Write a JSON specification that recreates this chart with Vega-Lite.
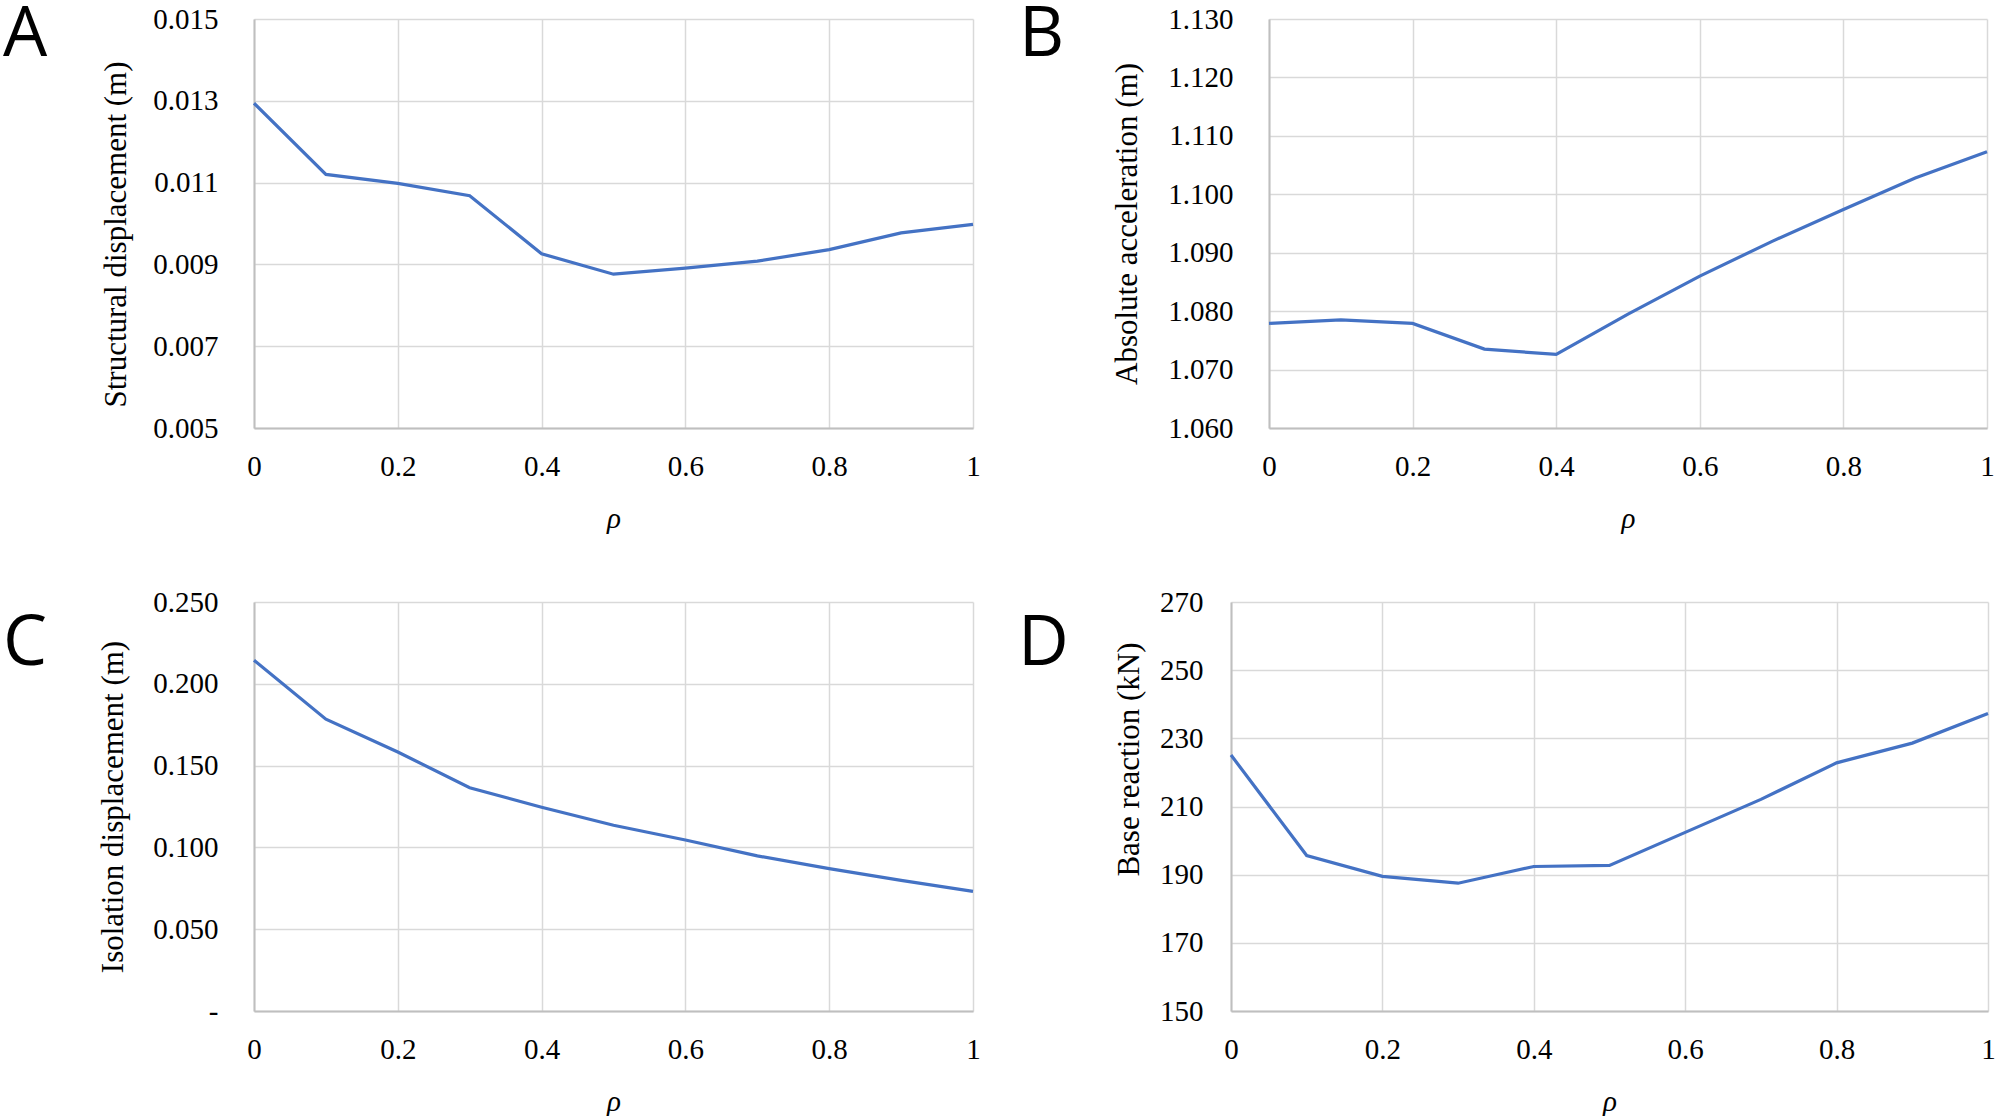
{
  "$schema": "https://vega.github.io/schema/vega-lite/v6.json",
  "background": "white",
  "padding": {"left": 3, "top": 0, "right": 0, "bottom": 0},
  "datasets": {
    "a": [
      {"rho": 0.0, "value": 0.01294},
      {"rho": 0.1, "value": 0.01120},
      {"rho": 0.2, "value": 0.01098},
      {"rho": 0.3, "value": 0.01068},
      {"rho": 0.4, "value": 0.00926},
      {"rho": 0.5, "value": 0.00876},
      {"rho": 0.6, "value": 0.00891},
      {"rho": 0.7, "value": 0.00908},
      {"rho": 0.8, "value": 0.00936},
      {"rho": 0.9, "value": 0.00977},
      {"rho": 1.0, "value": 0.00998}
    ],
    "b": [
      {"rho": 0.0, "value": 1.0779},
      {"rho": 0.1, "value": 1.0785},
      {"rho": 0.2, "value": 1.0779},
      {"rho": 0.3, "value": 1.0735},
      {"rho": 0.4, "value": 1.0726},
      {"rho": 0.5, "value": 1.0795},
      {"rho": 0.6, "value": 1.0860},
      {"rho": 0.7, "value": 1.0919},
      {"rho": 0.8, "value": 1.0974},
      {"rho": 0.9, "value": 1.1028},
      {"rho": 1.0, "value": 1.1073}
    ],
    "c": [
      {"rho": 0.0, "value": 0.2144},
      {"rho": 0.1, "value": 0.1784},
      {"rho": 0.2, "value": 0.1583},
      {"rho": 0.3, "value": 0.1365},
      {"rho": 0.4, "value": 0.1245},
      {"rho": 0.5, "value": 0.1135},
      {"rho": 0.6, "value": 0.1045},
      {"rho": 0.7, "value": 0.0948},
      {"rho": 0.8, "value": 0.0870},
      {"rho": 0.9, "value": 0.0798},
      {"rho": 1.0, "value": 0.0731}
    ],
    "d": [
      {"rho": 0.0, "value": 225.1},
      {"rho": 0.1, "value": 195.6},
      {"rho": 0.2, "value": 189.5},
      {"rho": 0.3, "value": 187.5},
      {"rho": 0.4, "value": 192.4},
      {"rho": 0.5, "value": 192.7},
      {"rho": 0.6, "value": 202.4},
      {"rho": 0.7, "value": 212.1},
      {"rho": 0.8, "value": 222.8},
      {"rho": 0.9, "value": 228.6},
      {"rho": 1.0, "value": 237.3}
    ]
  },
  "spacing": 55,
  "vconcat": [
    {
      "bounds": "flush",
      "spacing": 296,
      "hconcat": [
        {
          "width": 719,
          "height": 409,
          "title": {"text": "A", "dx": -251, "dy": 70},
          "data": {"name": "a"},
          "mark": {"type": "line", "color": "#4472C4", "strokeWidth": 3.2},
          "encoding": {
            "x": {"field": "rho", "type": "quantitative", "scale": {"domain": [0, 1], "nice": false},
                  "axis": {"values": [0, 0.2, 0.4, 0.6, 0.8, 1], "format": "~g", "title": "ρ"}},
            "y": {"field": "value", "type": "quantitative", "scale": {"domain": [0.005, 0.015], "nice": false, "zero": false},
                  "axis": {"values": [0.005, 0.007, 0.009, 0.011, 0.013, 0.015], "format": ".3f", "title": "Structural displacement (m)", "titlePadding": 20, "titleY": 215}}
          }
        },
        {
          "width": 718,
          "height": 409,
          "title": {"text": "B", "dx": -250, "dy": 70},
          "data": {"name": "b"},
          "mark": {"type": "line", "color": "#4472C4", "strokeWidth": 3.2},
          "encoding": {
            "x": {"field": "rho", "type": "quantitative", "scale": {"domain": [0, 1], "nice": false},
                  "axis": {"values": [0, 0.2, 0.4, 0.6, 0.8, 1], "format": "~g", "title": "ρ"}},
            "y": {"field": "value", "type": "quantitative", "scale": {"domain": [1.06, 1.13], "nice": false, "zero": false},
                  "axis": {"values": [1.06, 1.07, 1.08, 1.09, 1.1, 1.11, 1.12, 1.13], "format": ".3f", "title": "Absolute acceleration (m)", "titlePadding": 24}}
          }
        }
      ]
    },
    {
      "bounds": "flush",
      "spacing": 258,
      "hconcat": [
        {
          "width": 719,
          "height": 409,
          "title": {"text": "C", "dx": -251, "dy": 96},
          "data": {"name": "c"},
          "mark": {"type": "line", "color": "#4472C4", "strokeWidth": 3.2},
          "encoding": {
            "x": {"field": "rho", "type": "quantitative", "scale": {"domain": [0, 1], "nice": false},
                  "axis": {"values": [0, 0.2, 0.4, 0.6, 0.8, 1], "format": "~g", "title": "ρ"}},
            "y": {"field": "value", "type": "quantitative", "scale": {"domain": [0, 0.25], "nice": false, "zero": false},
                  "axis": {"values": [0, 0.05, 0.1, 0.15, 0.2, 0.25], "labelExpr": "datum.value == 0 ? '-\u2002\u2002' : format(datum.value, '.3f')", "title": "Isolation displacement (m)", "titlePadding": 23}}
          }
        },
        {
          "width": 757,
          "height": 409,
          "title": {"text": "D", "dx": -213, "dy": 96},
          "data": {"name": "d"},
          "mark": {"type": "line", "color": "#4472C4", "strokeWidth": 3.2},
          "encoding": {
            "x": {"field": "rho", "type": "quantitative", "scale": {"domain": [0, 1], "nice": false},
                  "axis": {"values": [0, 0.2, 0.4, 0.6, 0.8, 1], "format": "~g", "title": "ρ"}},
            "y": {"field": "value", "type": "quantitative", "scale": {"domain": [150, 270], "nice": false, "zero": false},
                  "axis": {"values": [150, 170, 190, 210, 230, 250, 270], "format": "d", "title": "Base reaction (kN)", "titlePadding": 14, "labelPadding": 28, "titleY": 157}}
          }
        }
      ]
    }
  ],
  "config": {
    "view": {"stroke": null},
    "title": {"anchor": "start", "frame": "group", "font": "Open Sans", "fontSize": 70, "fontWeight": "normal", "color": "#000", "offset": 0},
    "axis": {
      "labelFont": "Liberation Serif",
      "labelFontSize": 29,
      "labelColor": "#000",
      "labelFlush": false,
      "labelOverlap": false,
      "titleFont": "Liberation Serif",
      "titleFontSize": 31,
      "titleFontWeight": "normal",
      "titleColor": "#000",
      "gridColor": "#d9d9d9",
      "gridWidth": 1.5,
      "domainColor": "#bfbfbf",
      "domainWidth": 2,
      "ticks": false,
      "tickSize": 0
    },
    "axisX": {"labelPadding": 24, "titlePadding": 23, "titleFontStyle": "italic", "titleFontSize": 29},
    "axisY": {"labelPadding": 36}
  }
}
